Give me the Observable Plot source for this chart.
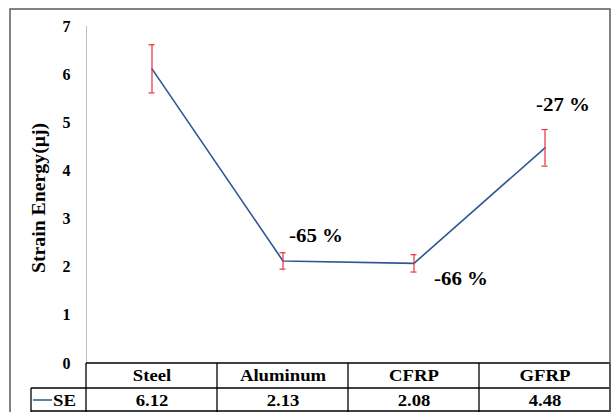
<!DOCTYPE html>
<html><head><meta charset="utf-8">
<script src="https://cdn.jsdelivr.net/npm/d3@7"></script>
<script src="https://cdn.jsdelivr.net/npm/@observablehq/plot@0.6"></script>
<style>
body{margin:0;background:#fff}
svg{display:block}
</style>
</head><body><div id="chart"></div>
<script>
const categories = ["Steel", "Aluminum", "CFRP", "GFRP"];
const seValues = [6.12, 2.13, 2.08, 4.48];
const errorBars = [0.5, 0.17, 0.18, 0.38];
const changeLabels = ["", "-65 %", "-66 %", "-27 %"];
const yTicks = [0, 1, 2, 3, 4, 5, 6, 7];
const seriesName = "SE";
const yTitle = "Strain Energy(μj)";

const data = categories.map((c, i) => ({cat: c, v: seValues[i], e: errorBars[i], note: changeLabels[i]}));
const fontFam = "Liberation Serif, DejaVu Serif, serif";
const blue = "#2F5597", red = "#E5323C";

const noteMark = (label, dx, dy) => Plot.text(data.filter(d => d.note === label), {
  x: "cat", y: "v", text: "note", dx, dy, fontSize: 19, fontWeight: "bold"
});

const plot = Plot.plot({
  width: 611, height: 412,
  marginLeft: 86, marginRight: 1, marginTop: 26, marginBottom: 49,
  style: {fontWeight: "bold", fontSize: "15px", color: "#000", background: "transparent"},
  x: {domain: categories, padding: 0, axis: null},
  y: {domain: [0, 7], axis: null},
  marks: [
    Plot.frame({anchor: "left", stroke: "#bfbfbf", strokeWidth: 1}),
    Plot.axisY({ticks: yTicks, tickSize: 0, tickPadding: 16, tickFormat: d => String(d), label: null, fontSize: 16}),
    Plot.text([yTitle], {text: d => d, frameAnchor: "left", textAnchor: "middle", lineAnchor: "middle", rotate: -90, dx: -47, dy: 3, fontSize: 18}),
    Plot.line(data, {x: "cat", y: "v", stroke: blue, strokeWidth: 1.6}),
    Plot.ruleX(data, {x: "cat", y1: d => d.v - d.e, y2: d => d.v + d.e, stroke: red, strokeWidth: 1.2}),
    Plot.tickY(data, {x: "cat", y: d => d.v + d.e, stroke: red, strokeWidth: 1.2, insetLeft: 62.5, insetRight: 62.5}),
    Plot.tickY(data, {x: "cat", y: d => d.v - d.e, stroke: red, strokeWidth: 1.2, insetLeft: 62.5, insetRight: 62.5}),
    noteMark("-65 %", 33, -25),
    noteMark("-66 %", 47, 16),
    noteMark("-27 %", 18, -43),
    Plot.text(categories, {x: d => d, text: d => d, frameAnchor: "bottom", lineAnchor: "middle", dy: 12.5, fontSize: 17}),
    Plot.text(data, {x: "cat", text: d => d.v.toFixed(2), frameAnchor: "bottom", lineAnchor: "middle", dy: 37, fontSize: 17})
  ]
});
document.getElementById("chart").appendChild(plot);

// data table grid, positioned with the plot's own x scale
const xs = plot.scale("x");
const edges = categories.map(c => xs.apply(c)).concat([xs.apply(categories[categories.length - 1]) + xs.bandwidth]);
const svg = d3.select(plot);
const top0 = 412 - 49, rowY = 388, bottomY = 411, legendX = 31;
const xR = edges[edges.length - 1];
const g = svg.append("g").attr("stroke", "#000").attr("stroke-width", 1.3);
g.append("line").attr("x1", edges[0]).attr("x2", xR).attr("y1", top0).attr("y2", top0);
g.append("line").attr("x1", legendX).attr("x2", xR).attr("y1", rowY).attr("y2", rowY);
g.append("line").attr("x1", legendX).attr("x2", xR).attr("y1", bottomY).attr("y2", bottomY);
edges.forEach(x => g.append("line").attr("x1", x).attr("x2", x).attr("y1", top0).attr("y2", 412));
g.append("line").attr("x1", legendX).attr("x2", legendX).attr("y1", rowY).attr("y2", 412);
svg.append("line").attr("x1", 33).attr("x2", 52).attr("y1", 400).attr("y2", 400).attr("stroke", blue).attr("stroke-width", 1.5);
svg.append("text").attr("transform", "translate(53,400)").attr("dy", "0.35em").attr("text-anchor", "start").attr("font-size", 17).attr("font-weight", "bold").text(seriesName);
svg.append("rect").attr("x", 10).attr("y", 9).attr("width", 600).attr("height", 420).attr("fill", "none").attr("stroke", "#595959").attr("stroke-width", 1.5);
svg.style("font-family", fontFam);
svg.selectAll("text").style("font-family", fontFam).style("font-weight", "bold");
// the reference's lettering is slightly wide: stretch all but the tick labels
svg.selectAll("text").each(function () {
  const parent = this.parentNode;
  if (parent && parent.getAttribute("aria-label") === "y-axis tick label") return;
  const t = this.getAttribute("transform") || "";
  this.setAttribute("transform", t + " scale(1.1,1)");
});
</script>
</body></html>
